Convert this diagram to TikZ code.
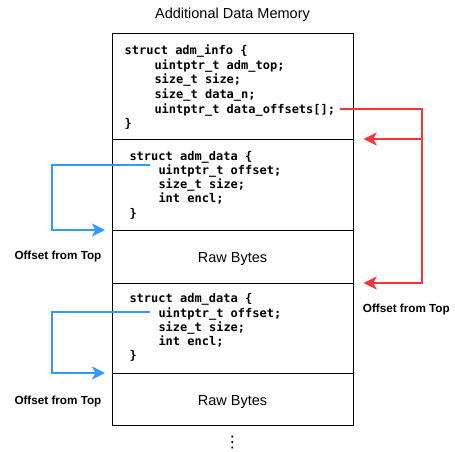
\documentclass[tikz,border=0pt]{standalone}
\usepackage{fontspec}
\setmainfont{Liberation Sans}
\setmonofont{DejaVu Sans Mono}
\newfontfamily\dejavu{DejaVu Sans}
\usetikzlibrary{arrows.meta,calc}
\definecolor{arrblue}{RGB}{51,153,255}
\definecolor{arrred}{RGB}{255,51,51}
\begin{document}
\begin{tikzpicture}[x=1pt,y=-1pt,
  row/.style={draw=black,line width=1pt,minimum width=241pt,inner sep=0pt,anchor=north west},
  code/.style={anchor=base west,inner sep=0pt,font=\ttfamily\bfseries\fontsize{12}{14}\selectfont},
  lbl/.style={anchor=base west,inner sep=0pt,font=\bfseries\fontsize{11.7}{13}\selectfont},
  big/.style={anchor=base,inner sep=0pt,font=\fontsize{14.5}{16}\selectfont},
  tip/.style={-{Stealth[length=13pt,width=13pt,inset=3.5pt]}},
  bluearrow/.style={draw=arrblue,line width=2pt},
  redarrow/.style={draw=arrred,line width=2pt}
]
\useasboundingbox (0,0) rectangle (455,452);
% title
\node[big] (title) at (232.5,19) {Additional Data Memory};
% memory rows
\node[row,minimum height=106pt] (r1) at (112,33) {};
\node[row,minimum height=91pt] (r2) at (112,139) {};
\node[row,minimum height=53pt] (r3) at (112,230) {};
\node[row,minimum height=90pt] (r4) at (112,283) {};
\node[row,minimum height=52pt] (r5) at (112,373) {};
% block 1
\node[code] (a1) at (124.5,55) {struct adm\_info \{};
\node[code] (a2) at (154.3,69.5) {uintptr\_t adm\_top;};
\node[code] (a3) at (154.3,84) {size\_t size;};
\node[code] (a4) at (154.3,98.5) {size\_t data\_n;};
\node[code] (a5) at (154.3,113) {uintptr\_t data\_offsets[];};
\node[code] (a6) at (124.5,127.5) {\}};
% block 2
\node[code] (b1) at (129.3,160) {struct adm\_data \{};
\node[code] (b2) at (158.3,174.3) {uintptr\_t offset;};
\node[code] (b3) at (158.3,188.6) {size\_t size;};
\node[code] (b4) at (158.3,202.9) {int encl;};
\node[code] (b5) at (129.3,217.2) {\}};
\node[big] (raw1) at (232.5,262) {Raw Bytes};
% block 3
\node[code] (c1) at (129.3,302.7) {struct adm\_data \{};
\node[code] (c2) at (158.3,317) {uintptr\_t offset;};
\node[code] (c3) at (158.3,331.3) {size\_t size;};
\node[code] (c4) at (158.3,345.6) {int encl;};
\node[code] (c5) at (129.3,359.9) {\}};
\node[big] (raw2) at (232.5,405.7) {Raw Bytes};
% ellipsis
\node[inner sep=0pt,font=\dejavu\fontsize{16}{16}\selectfont] (dots) at (232.3,443) {⋮};
% labels
\node[lbl] (l1) at (14.3,259) {Offset from Top};
\node[lbl] (l2) at (14.3,404) {Offset from Top};
\node[lbl] (l3) at (362.7,312.7) {Offset from Top};
% blue connectors
\coordinate (bs1) at (150,165);
\coordinate (bc1) at (51.7,165);
\coordinate (bt1) at ($(r3.north west)+(-7,0)$);
\draw[bluearrow,tip] (bs1) -- (bc1) |- (bt1);
\coordinate (bs2) at (150,312.3);
\coordinate (bc2) at (51.7,312.3);
\coordinate (bt2) at ($(r5.north west)+(-7,0)$);
\draw[bluearrow,tip] (bs2) -- (bc2) |- (bt2);
% red connectors
\coordinate (rs) at (340,109);
\coordinate (rc0) at (422.3,109);
\coordinate (rt1) at ($(r2.north east)+(9.7,0)$);
\coordinate (rt2) at ($(r4.north east)+(9.7,0)$);
\coordinate (rc1) at (rc0 |- rt1);
\coordinate (rc2) at (rc0 |- rt2);
\draw[redarrow,tip] (rs) -- (rc0) -- (rc2) -- (rt2);
\draw[redarrow,tip] (rc1) -- (rt1);
\end{tikzpicture}
\end{document}
